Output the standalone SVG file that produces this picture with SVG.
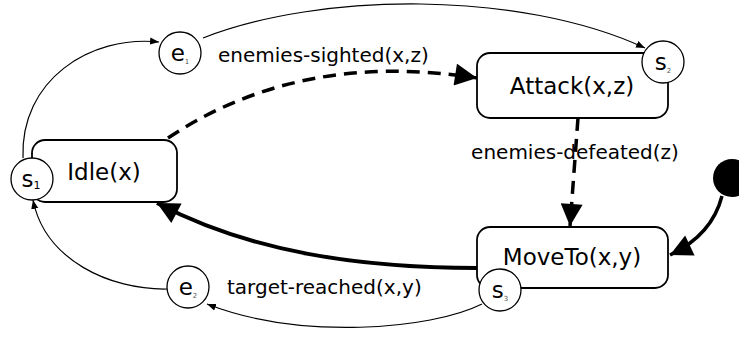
<svg xmlns="http://www.w3.org/2000/svg" width="739" height="339" viewBox="0 0 739 339">
<defs>
<style>
.box{fill:#fff;stroke:#000;stroke-width:1.8}
.circ{fill:#fff;stroke:#000;stroke-width:1.3}
.node{font-family:"DejaVu Sans",sans-serif;font-size:23px;fill:#000}
.lbl{font-family:"DejaVu Sans",sans-serif;font-size:20px;fill:#000}
.ct{font-family:"DejaVu Sans",sans-serif;font-size:23px;fill:#000}
.sub{font-size:7px;fill:#555}
.thin{fill:none;stroke:#000;stroke-width:1.2}
</style>
<marker id="sm" viewBox="0 0 10 10" refX="10" refY="5" markerWidth="9" markerHeight="9" markerUnits="userSpaceOnUse" orient="auto"><path d="M0,1 L10,5 L0,9 Z" fill="#000"/></marker>
<marker id="big" viewBox="0 0 10 10" refX="10" refY="5" markerWidth="24" markerHeight="22" markerUnits="userSpaceOnUse" orient="auto"><path d="M0,0 L10,5 L0,10 Z" fill="#000"/></marker>
</defs>
<rect width="739" height="339" fill="#fff"/>
<g id="connectors">
<path class="thin" d="M23,158 C 20,80 90,35 159,42" marker-end="url(#sm)"/>
<path class="thin" d="M203,38 C 320,-8 520,-10 645,48" marker-end="url(#sm)"/>
<path class="thin" d="M167,289 C 110,290 45,260 33,200" marker-end="url(#sm)"/>
<path class="thin" d="M482,304 C 430,330 300,340 207,304" marker-end="url(#sm)"/>
<path d="M168,138 Q 300,50 477,78" fill="none" stroke="#000" stroke-width="3.5" stroke-dasharray="13,8" marker-end="url(#big)"/>
<path d="M578,118 L 570,226" fill="none" stroke="#000" stroke-width="3.5" stroke-dasharray="13,8" marker-end="url(#big)"/>
<path d="M477,268 C 360,268 250,252 157,203" fill="none" stroke="#000" stroke-width="4" marker-end="url(#big)"/>
<path d="M722,196 Q 712,235 670,255" fill="none" stroke="#000" stroke-width="3.5" marker-end="url(#big)"/>
</g>
<g id="init"><circle cx="732" cy="178" r="19" fill="#000"/></g>
<g id="idle">
<rect class="box" x="32" y="140" width="145" height="62" rx="13"/>
<text class="node" x="104" y="180" text-anchor="middle">Idle(x)</text>
</g>
<g id="attack">
<rect class="box" x="477" y="53" width="191" height="65" rx="13"/>
<text class="node" x="572" y="94" text-anchor="middle">Attack(x,z)</text>
</g>
<g id="moveto">
<rect class="box" x="477" y="227" width="191" height="61" rx="13"/>
<text class="node" x="572" y="265" text-anchor="middle">MoveTo(x,y)</text>
</g>
<g id="s1"><circle class="circ" cx="32" cy="179" r="21"/><text class="ct" x="31" y="187" text-anchor="middle">s<tspan font-size="11" dy="2">1</tspan></text></g>
<g id="s2"><circle class="circ" cx="663" cy="62" r="21"/><text class="ct" x="663" y="70" text-anchor="middle">s<tspan class="sub" dy="3">2</tspan></text></g>
<g id="s3"><circle class="circ" cx="500" cy="290" r="21"/><text class="ct" x="500" y="298" text-anchor="middle">s<tspan class="sub" dy="3">3</tspan></text></g>
<g id="e1"><circle class="circ" cx="180" cy="53" r="21"/><text class="ct" x="180" y="61" text-anchor="middle">e<tspan class="sub" dy="3">1</tspan></text></g>
<g id="e2"><circle class="circ" cx="188" cy="287" r="21"/><text class="ct" x="188" y="295" text-anchor="middle">e<tspan class="sub" dy="3">2</tspan></text></g>
<g id="labels">
<text class="lbl" x="218" y="62">enemies-sighted(x,z)</text>
<text class="lbl" x="575" y="159" text-anchor="middle">enemies-defeated(z)</text>
<text class="lbl" x="227" y="294">target-reached(x,y)</text>
</g>
</svg>
